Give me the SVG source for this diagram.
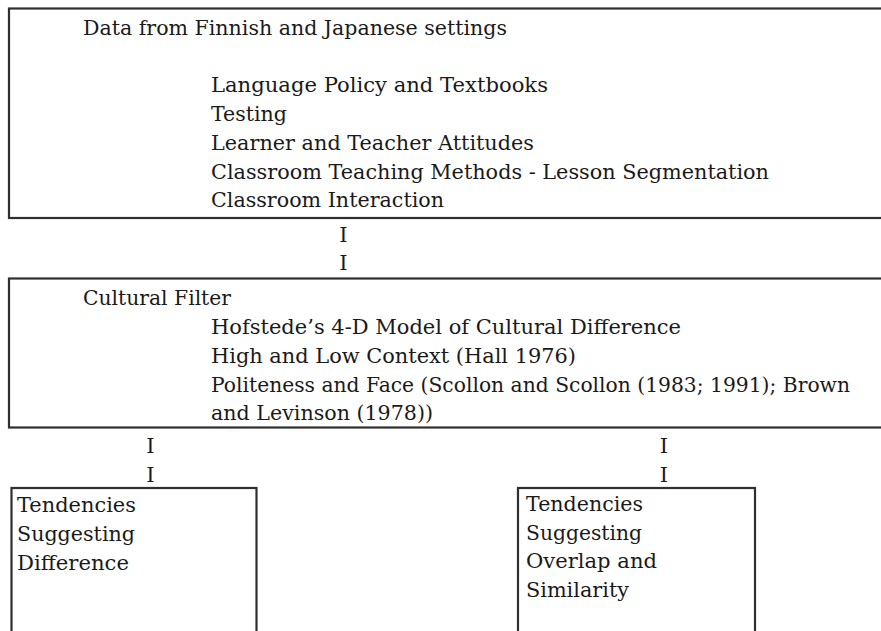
<svg xmlns="http://www.w3.org/2000/svg" width="881" height="631" viewBox="0 0 881 631">
<style>
.box{fill:none;stroke:#2f2f2f;stroke-width:2.2}
text{font-family:"DejaVu Serif","Liberation Serif",serif;font-size:21px;fill:#1a1a1a}
.bar{font-size:21px}
</style>
<rect width="881" height="631" fill="#fff"/>
<g id="node-data">
<rect class="box" x="9" y="8.5" width="890" height="209.5"/>
<text x="83" y="35" textLength="424" lengthAdjust="spacingAndGlyphs">Data from Finnish and Japanese settings</text>
<text x="211" y="92" textLength="337" lengthAdjust="spacingAndGlyphs">Language Policy and Textbooks</text>
<text x="211" y="121" textLength="76" lengthAdjust="spacingAndGlyphs">Testing</text>
<text x="211" y="150" textLength="323" lengthAdjust="spacingAndGlyphs">Learner and Teacher Attitudes</text>
<text x="211" y="179" textLength="558" lengthAdjust="spacingAndGlyphs">Classroom Teaching Methods - Lesson Segmentation</text>
<text x="211" y="207" textLength="233" lengthAdjust="spacingAndGlyphs">Classroom Interaction</text>
</g>
<g id="node-filter">
<rect class="box" x="9" y="278.5" width="890" height="149"/>
<text x="83" y="305" textLength="148" lengthAdjust="spacingAndGlyphs">Cultural Filter</text>
<text x="211" y="334" textLength="470" lengthAdjust="spacingAndGlyphs">Hofstede’s 4-D Model of Cultural Difference</text>
<text x="211" y="363" textLength="365" lengthAdjust="spacingAndGlyphs">High and Low Context (Hall 1976)</text>
<text x="211" y="392" textLength="639" lengthAdjust="spacingAndGlyphs">Politeness and Face (Scollon and Scollon (1983; 1991); Brown</text>
<text x="211" y="420" textLength="222" lengthAdjust="spacingAndGlyphs">and Levinson (1978))</text>
</g>
<g id="node-difference">
<rect class="box" x="11.5" y="488" width="245" height="160"/>
<text x="17" y="512" textLength="119" lengthAdjust="spacingAndGlyphs">Tendencies</text>
<text x="17" y="541" textLength="118" lengthAdjust="spacingAndGlyphs">Suggesting</text>
<text x="17" y="570" textLength="112" lengthAdjust="spacingAndGlyphs">Difference</text>
</g>
<g id="node-similarity">
<rect class="box" x="518" y="488" width="237" height="160"/>
<text x="526" y="511" textLength="117" lengthAdjust="spacingAndGlyphs">Tendencies</text>
<text x="526" y="540" textLength="116" lengthAdjust="spacingAndGlyphs">Suggesting</text>
<text x="526" y="568" textLength="131" lengthAdjust="spacingAndGlyphs">Overlap and</text>
<text x="526" y="597" textLength="103" lengthAdjust="spacingAndGlyphs">Similarity</text>
</g>
<g id="connectors" text-anchor="middle">
<text class="bar" x="343.5" y="242">I</text>
<text class="bar" x="343.5" y="270">I</text>
<text class="bar" x="150.5" y="453">I</text>
<text class="bar" x="150.5" y="482">I</text>
<text class="bar" x="664" y="453">I</text>
<text class="bar" x="664" y="482">I</text>
</g>
</svg>
